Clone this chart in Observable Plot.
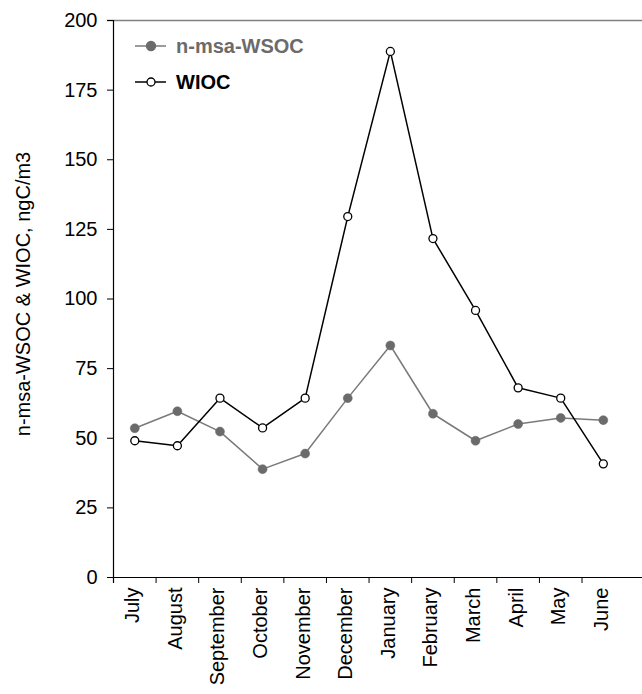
<!DOCTYPE html>
<html>
<head>
<meta charset="utf-8">
<script src="https://cdn.jsdelivr.net/npm/d3@7"></script>
<script src="https://cdn.jsdelivr.net/npm/@observablehq/plot@0.6"></script>
<style>
  html, body { margin: 0; padding: 0; background: #fff; }
  #chart { position: relative; width: 642px; height: 694px; font-family: "Liberation Sans", Arial, sans-serif; color: #000; }
  #legend { position: absolute; left: 0; top: 0; pointer-events: none; }
</style>
</head>
<body>
<div id="chart"></div>
<script>
const months = ["July", "August", "September", "October", "November", "December", "January", "February", "March", "April", "May", "June"];
const nmsaWSOC = [53.6, 59.7, 52.4, 38.9, 44.5, 64.4, 83.3, 58.8, 49.1, 55.1, 57.3, 56.5];
const wioc = [49.1, 47.3, 64.4, 53.7, 64.4, 129.6, 188.9, 121.7, 95.9, 68.1, 64.4, 40.8];
const yTicks = [0, 25, 50, 75, 100, 125, 150, 175, 200];
const seriesNames = ["n-msa-WSOC", "WIOC"];
const yLabel = "n-msa-WSOC & WIOC, ngC/m3";

const grayLine = "#7a7a7a";
const grayDot = "#6b6b6b";

const rowsA = months.map((m, i) => ({pos: i + 0.5, month: m, value: nmsaWSOC[i]}));
const rowsB = months.map((m, i) => ({pos: i + 0.5, month: m, value: wioc[i]}));

const plot = Plot.plot({
  width: 642,
  height: 694,
  marginLeft: 113,
  marginRight: 0,
  marginTop: 20,
  marginBottom: 117,
  style: {fontFamily: '"Liberation Sans", Arial, sans-serif', fontSize: "20px", color: "#000", background: "#fff"},
  x: {type: "linear", domain: [0, 12.42]},
  y: {domain: [0, 200]},
  marks: [
    Plot.ruleY([200], {stroke: "#808080", strokeWidth: 1.5, insetLeft: -6}),
    Plot.ruleY([0], {stroke: "#000", strokeWidth: 1.2, insetLeft: -6}),
    Plot.ruleX([0], {stroke: "#000", strokeWidth: 1.2, insetBottom: -6}),
    Plot.axisY({ticks: yTicks, tickSize: 6, tickPadding: 10, label: null, fontSize: 20, stroke: "#000"}),
    Plot.axisX({ticks: d3.range(months.length), tickSize: 6, tickFormat: () => "", label: null, stroke: "#000"}),
    Plot.axisX({ticks: months.map((m, i) => i + 0.5), tickSize: 0, tickPadding: 10, tickRotate: -90,
      tickFormat: d => months[Math.floor(d)], label: null, fontSize: 20, dx: -2}),
    Plot.text([yLabel], {frameAnchor: "left", textAnchor: "middle", rotate: -90, dx: -90, dy: -5, fontSize: 20, fill: "#000"}),
    Plot.line(rowsA, {x: "pos", y: "value", stroke: grayLine, strokeWidth: 1.5}),
    Plot.dot(rowsA, {x: "pos", y: "value", r: 4.5, fill: grayDot, stroke: grayDot, strokeWidth: 0.5}),
    Plot.line(rowsB, {x: "pos", y: "value", stroke: "#000", strokeWidth: 1.5}),
    Plot.dot(rowsB, {x: "pos", y: "value", r: 4, fill: "#fff", stroke: "#000", strokeWidth: 1.3})
  ]
});

const chart = document.getElementById("chart");
chart.appendChild(plot);

// Legend
const legend = d3.select(chart).append("svg")
  .attr("id", "legend").attr("width", 642).attr("height", 120);
const styles = [
  {line: grayLine, fill: grayDot, stroke: grayDot, r: 4.5, text: "#6b6b6b"},
  {line: "#000", fill: "#fff", stroke: "#000", r: 4, text: "#000"}
];
seriesNames.forEach((name, i) => {
  const s = styles[i];
  const g = legend.append("g").attr("transform", `translate(0,${46 + i * 36})`);
  g.append("line").attr("x1", 135).attr("x2", 166).attr("y1", 0).attr("y2", 0)
    .attr("stroke", s.line).attr("stroke-width", 1.5);
  g.append("circle").attr("cx", 151).attr("cy", 0).attr("r", s.r)
    .attr("fill", s.fill).attr("stroke", s.stroke).attr("stroke-width", 1.3);
  g.append("text").attr("x", 176).attr("y", 0).attr("dy", "0.35em")
    .attr("font-family", '"Liberation Sans", Arial, sans-serif')
    .attr("font-size", 20).attr("font-weight", "bold").attr("fill", s.text).text(name);
});
</script>
</body>
</html>
